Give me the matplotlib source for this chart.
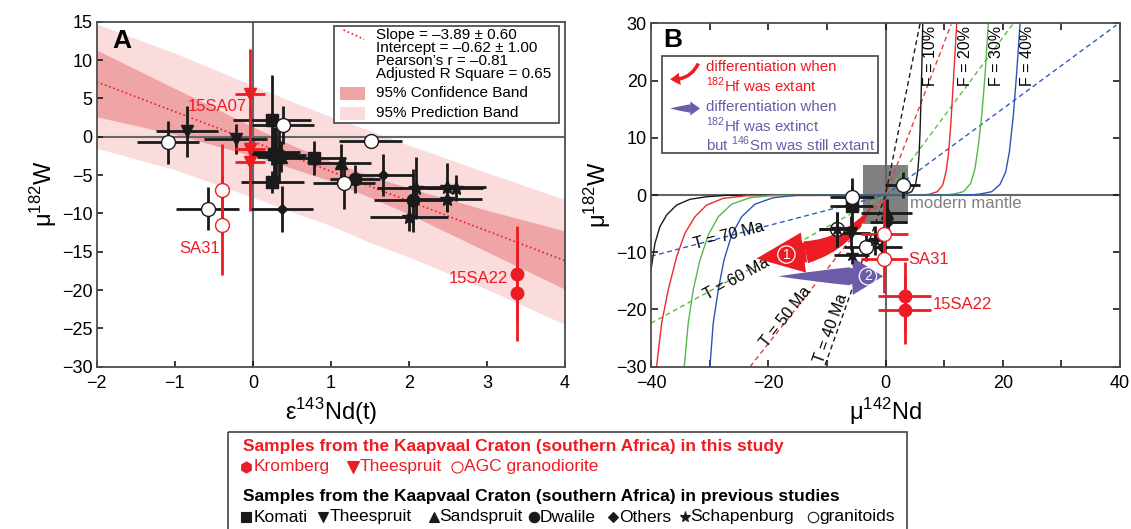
import matplotlib
matplotlib.use("Agg")
import matplotlib.pyplot as plt
from matplotlib.patches import Rectangle, FancyArrowPatch, ArrowStyle
from matplotlib.ticker import MultipleLocator

plt.rcParams['font.family'] = ['Liberation Sans', 'DejaVu Sans']
plt.rcParams['mathtext.fontset'] = 'custom'
plt.rcParams['mathtext.rm'] = 'Liberation Sans'

RED = '#ed1c24'
PURPLE = '#6b5ba8'
INK = '#1a1a1a'
FRAME = '#4d4d4d'

# ---------------- panel A data (eps143Nd vs mu182W) ----------------
band_x = [-2, -1, 0, 0.5, 1, 1.5, 2, 3, 4]
conf_upper = [11.3, 6.3, 1.3, -1.1, -3.2, -5.1, -6.7, -9.6, -12.3]
conf_lower = [2.6, 0.3, -2.5, -4.1, -5.8, -7.9, -10.1, -15.0, -19.9]
pred_upper = [14.7, 10.9, 6.7, 4.6, 2.6, 0.8, -1.1, -4.7, -8.2]
pred_lower = [-1.5, -4.3, -7.9, -9.8, -11.6, -13.8, -15.7, -19.9, -24.5]
fit_x = [-2, 4]
fit_y = [7.16, -16.18]

# this study (red)
theesp_new_x = [-0.04, -0.04, -0.04]
theesp_new_y = [5.6, -1.6, -3.3]
theesp_new_xerr = [0.19, 0.19, 0.19]
theesp_new_yerr = [5.8, 5.5, 6.4]
sa31_a_x = [-0.40, -0.40]
sa31_a_y = [-7.0, -11.5]
sa31_a_yerr = [6.0, 6.5]
kromberg_a_x = [3.38, 3.38]
kromberg_a_y = [-17.9, -20.4]
kromberg_a_yerr = [6.2, 6.2]

# previous studies (black)
komati_x = [0.25, 0.25, 0.27, 0.79]
komati_y = [2.2, -5.9, -2.2, -2.8]
komati_xerr = [0.5, 0.4, 0.3, 0.4]
komati_yerr = [5.9, 1.4, 3.5, 2.2]
theesp_x = [-0.84, -0.22]
theesp_y = [0.7, -0.3]
theesp_xerr = [0.4, 0.4]
theesp_yerr = [3.3, 2.0]
sands_x = [1.13, 0.36]
sands_y = [-3.4, -2.6]
sands_xerr = [0.39, 0.3]
sands_yerr = [2.5, 2.0]
dwal_x = [1.31, 2.05, 0.33]
dwal_y = [-5.5, -8.3, -2.4]
dwal_xerr = [0.32, 0.5, 0.35]
dwal_yerr = [1.8, 4.1, 3.7]
others_x = [1.67, 0.37, 0.30]
others_y = [-5.0, -9.4, -2.0]
others_xerr = [0.4, 0.4, 0.3]
others_yerr = [2.8, 3.0, 3.3]
schap_x = [2.09, 2.49, 2.60, 2.49, 2.00]
schap_y = [-6.7, -6.6, -6.7, -8.1, -10.5]
schap_xerr = [0.5, 0.5, 0.35, 0.45, 0.5]
schap_yerr = [4.0, 3.2, 1.7, 1.6, 1.8]
gran_x = [-1.09, 0.39, 1.51, 1.17, -0.58]
gran_y = [-0.7, 1.5, -0.5, -6.1, -9.4]
gran_xerr = [0.4, 0.4, 0.4, 0.4, 0.4]
gran_yerr = [2.8, 2.5, 0.0, 3.3, 2.8]

# ---------------- panel B data (mu142Nd vs mu182W) ----------------
gran_b_x = [2.9, -5.7, -8.2, -3.4]
gran_b_y = [1.7, -0.3, -6.0, -9.1]
gran_b_xerr = [3.0, 3.7, 3.2, 3.7]
gran_b_yerr = [2.3, 1.8, 3.0, 2.5]
komati_b_x = [-5.8]
komati_b_y = [-2.0]
komati_b_xerr = [3.7]
komati_b_yerr = [5.0]
sands_b_x = [0.2]
sands_b_y = [-3.2]
sands_b_xerr = [4.4]
sands_b_yerr = [2.5]
others_b_x = [0.5, -0.65]
others_b_y = [-4.7, -9.1]
others_b_xerr = [3.1, 3.4]
others_b_yerr = [1.5, 2.0]
theesp_b_x = [-5.9]
theesp_b_y = [-6.6]
theesp_b_xerr = [3.3]
theesp_b_yerr = [3.0]
schap_b_x = [-8.2, -1.8, -5.8]
schap_b_y = [-6.0, -7.9, -10.5]
schap_b_xerr = [3.2, 1.5, 3.0]
schap_b_yerr = [3.0, 2.5, 1.5]
sa31_b_x = [-0.2, -0.2]
sa31_b_y = [-6.8, -11.2]
sa31_b_xerr = [4.0, 4.0]
sa31_b_yerr = [6.0, 6.0]
kromberg_b_x = [3.3, 3.3]
kromberg_b_y = [-17.7, -20.1]
kromberg_b_xerr = [4.5, 4.5]
kromberg_b_yerr = [6.0, 6.0]

# model curves (F = melt fraction)
f10_x = [-40.0, -39.33, -38.48, -37.34, -35.63, -33.36, -30.51, -27.10, 3.0, 4.47, 5.15, 5.49, 5.72, 5.89, 6.06, 6.23, 6.35]
f10_y = [-13.1, -8.45, -5.54, -3.50, -1.75, -0.75, -0.30, -0.05, 0.0, 0.58, 2.0, 4.1, 7.0, 11.1, 16.9, 23.9, 30.0]
f20_x = [-39.05, -38.19, -37.07, -35.63, -34.22, -32.51, -30.51, -27.68, -23.69, 6.5, 7.59, 8.84, 9.76, 10.32, 10.72, 11.13, 11.57, 12.15]
f20_y = [-30.0, -22.4, -16.6, -10.8, -6.7, -3.8, -1.75, -0.58, -0.12, 0.0, 0.17, 0.58, 1.75, 4.07, 7.0, 12.2, 19.8, 30.0]
f30_x = [-34.33, -33.65, -32.80, -31.66, -30.24, -28.53, -26.25, -23.12, -19.15, 10.0, 11.57, 13.28, 14.54, 15.27, 15.84, 16.42, 16.98, 17.54]
f30_y = [-30.0, -22.4, -16.6, -11.4, -7.0, -3.8, -1.6, -0.47, -0.05, 0.0, 0.17, 0.58, 2.05, 4.67, 8.74, 14.0, 21.0, 30.0]
f40_x = [-29.95, -29.39, -28.53, -27.56, -26.25, -24.54, -22.27, -19.15, -15.15, 14.5, 16.13, 18.12, 19.54, 20.51, 21.13, 21.81, 22.39, 22.95]
f40_y = [-30.0, -22.4, -16.6, -11.4, -7.0, -3.8, -1.6, -0.47, -0.05, 0.0, 0.17, 0.58, 1.87, 4.07, 7.57, 14.0, 21.6, 30.0]
f_labels = ['F = 10%', 'F = 20%', 'F = 30%', 'F = 40%']
f_label_x = [7.6, 13.6, 18.9, 24.3]

# isochrons (T = age of differentiation)
t70_x = [-40, 0, 39.4]
t70_y = [-10.7, 0, 29.7]
t60_x = [-40, 0, 21.8]
t60_y = [-22.4, 0, 30.0]
t50_x = [-23.1, 0, 11.2]
t50_y = [-30.0, 0, 29.8]
t40_x = [-10.3, 0, 5.9]
t40_y = [-29.7, 0, 30.0]
t_labels = ['T = 70 Ma', 'T = 60 Ma', 'T = 50 Ma', 'T = 40 Ma']
t_label_pos = [(-26.8, -7.0), (-25.4, -14.6), (-17.0, -21.3), (-9.4, -23.3)]
t_label_rot = [14.7, 28.7, 51.8, 70.4]

mantle_box = (-3.9, -5.1, 7.7, 10.3)   # x, y, width, height

# arrows: tail, head base, tip
arrow1 = [(-2.4, -2.0), (-13.6, -10.0), (-22.0, -11.1)]
arrow2 = [(-18.3, -14.2), (-6.06, -14.2), (-0.4, -14.2)]


def tapered_arrow(ax, tail, base, tip, body_w, head_len, head_w, color, rad=0.0,
                  transform=None, z=3):
    """wedge body from head base back to a point at the tail, plus a head"""
    tr = transform if transform is not None else ax.transData
    body = FancyArrowPatch(base, tail, arrowstyle=ArrowStyle.Wedge(tail_width=body_w, shrink_factor=0.55),
                           connectionstyle='arc3,rad=%g' % rad, mutation_scale=1,
                           shrinkA=0, shrinkB=0, fc=color, ec='none', transform=tr, zorder=z)
    head = FancyArrowPatch(base, tip, arrowstyle=ArrowStyle.Simple(head_length=head_len, head_width=head_w,
                                                                   tail_width=body_w * 0.9),
                           mutation_scale=1, shrinkA=0, shrinkB=0, fc=color, ec='none',
                           transform=tr, zorder=z)
    ax.add_patch(body)
    ax.add_patch(head)


def style_axes(ax):
    for s in ax.spines.values():
        s.set_color(FRAME)
        s.set_linewidth(1.3)
    ax.tick_params(which='both', direction='in', length=4, width=1.2, color=INK,
                   labelsize=13, pad=3)
    ax.tick_params(axis='x', which='both', pad=6)


def black_points(ax, x, y, xerr, yerr, marker, ms, open_marker=False, z=5):
    ax.errorbar(x, y, xerr=xerr, yerr=yerr, fmt=marker, ms=ms,
                mfc='white' if open_marker else INK, mec=INK, mew=1.0,
                ecolor=INK, elinewidth=2.0, capsize=0, zorder=z)


fig = plt.figure(figsize=(11.31, 5.29), dpi=100)
axA = fig.add_axes([0.0855, 0.3068, 0.4141, 0.6522])
axB = fig.add_axes([0.5756, 0.3068, 0.4147, 0.6491])

# ================= panel A =================
axA.fill_between(band_x, pred_lower, pred_upper, color='#fbdcdc', lw=0, zorder=1)
axA.fill_between(band_x, conf_lower, conf_upper, color='#efa4a6', lw=0, zorder=1.1)
axA.plot(fit_x, fit_y, ls=':', color=RED, lw=1.2, zorder=2)
axA.axhline(0, color='#666666', lw=1.5, zorder=1.5)
axA.axvline(0, color='#666666', lw=1.5, zorder=1.5)

black_points(axA, theesp_x, theesp_y, theesp_xerr, theesp_yerr, 'v', 9)
black_points(axA, komati_x, komati_y, komati_xerr, komati_yerr, 's', 9)
black_points(axA, sands_x, sands_y, sands_xerr, sands_yerr, '^', 9)
black_points(axA, dwal_x, dwal_y, dwal_xerr, dwal_yerr, 'o', 9)
black_points(axA, others_x, others_y, others_xerr, others_yerr, 'D', 5.5)
black_points(axA, schap_x, schap_y, schap_xerr, schap_yerr, '*', 10)
black_points(axA, gran_x, gran_y, gran_xerr, gran_yerr, 'o', 10, open_marker=True)

axA.errorbar(theesp_new_x, theesp_new_y, xerr=theesp_new_xerr, yerr=theesp_new_yerr, fmt='v',
             ms=9, color=RED, ecolor=RED, elinewidth=2.0, capsize=0, zorder=6)
axA.errorbar(sa31_a_x, sa31_a_y, yerr=sa31_a_yerr, fmt='o', ms=10, mfc='white', mec=RED,
             mew=1.0, ecolor=RED, elinewidth=2.0, capsize=0, zorder=6)
axA.errorbar(kromberg_a_x, kromberg_a_y, yerr=kromberg_a_yerr, fmt='o', ms=9, color=RED,
             ecolor=RED, elinewidth=2.0, capsize=0, zorder=6)

axA.text(-0.08, 3.95, '15SA07', color=RED, fontsize=12, ha='right', va='center', zorder=7)
axA.text(-0.42, -14.6, 'SA31', color=RED, fontsize=12, ha='right', va='center', zorder=7)
axA.text(3.27, -18.55, '15SA22', color=RED, fontsize=12, ha='right', va='center', zorder=7)

axA.set_xlim(-2, 4)
axA.set_ylim(-30, 15)
axA.xaxis.set_major_locator(MultipleLocator(1))
axA.yaxis.set_major_locator(MultipleLocator(5))
style_axes(axA)
axA.set_xlabel('ε$^{\\mathregular{143}}$Nd(t)', fontsize=17, labelpad=3)
axA.set_ylabel('μ$^{\\mathregular{182}}$W', fontsize=17, labelpad=2)
axA.text(0.054, 0.944, 'A', transform=axA.transAxes, fontsize=19, fontweight='bold',
         ha='center', va='center', zorder=8)

# regression legend box
axA.add_patch(Rectangle((0.507, 0.707), 0.48, 0.28, transform=axA.transAxes, fc='white',
                        ec='#444444', lw=1.2, zorder=8))
axA.plot([0.527, 0.571], [0.976, 0.949], ls=':', color=RED, lw=1.2,
         transform=axA.transAxes, zorder=9)
stats = ['Slope = –3.89 ± 0.60', 'Intercept = –0.62 ± 1.00', 'Pearson’s r = –0.81',
         'Adjusted R Square = 0.65']
stats_y = [0.961, 0.923, 0.886, 0.848]
for s, yy in zip(stats, stats_y):
    axA.text(0.596, yy, s, transform=axA.transAxes, fontsize=11, va='center', zorder=9)
axA.add_patch(Rectangle((0.519, 0.773), 0.054, 0.037, transform=axA.transAxes,
                        fc='#efa4a6', ec='none', zorder=9))
axA.add_patch(Rectangle((0.519, 0.715), 0.054, 0.039, transform=axA.transAxes,
                        fc='#fbdcdc', ec='none', zorder=9))
axA.text(0.596, 0.794, '95% Confidence Band', transform=axA.transAxes, fontsize=11,
         va='center', zorder=9)
axA.text(0.596, 0.736, '95% Prediction Band', transform=axA.transAxes, fontsize=11,
         va='center', zorder=9)

# ================= panel B =================
axB.add_patch(Rectangle(mantle_box[:2], mantle_box[2], mantle_box[3], fc='#808080',
                        ec='none', zorder=1))
axB.axhline(0, color='#666666', lw=1.5, zorder=1.5)
axB.axvline(0, color='#666666', lw=1.5, zorder=1.5)

for xs, ys, c in [(t70_x, t70_y, '#2b5fbf'), (t60_x, t60_y, '#5dbb46'),
                  (t50_x, t50_y, '#ee3b3b'), (t40_x, t40_y, INK)]:
    axB.plot(xs, ys, ls=(0, (3.5, 2.5)), color=c, lw=1.0, zorder=2)
for xs, ys, c in [(f10_x, f10_y, INK), (f20_x, f20_y, '#ee2a2a'),
                  (f30_x, f30_y, '#55b947'), (f40_x, f40_y, '#2856b8')]:
    axB.plot(xs, ys, color=c, lw=1.0, zorder=2)

for lab, fx in zip(f_labels, f_label_x):
    axB.text(fx, 29.6, lab, rotation=90, ha='center', va='top', fontsize=11.5, zorder=3)
for lab, pos, rot in zip(t_labels, t_label_pos, t_label_rot):
    axB.text(pos[0], pos[1], lab, rotation=rot, rotation_mode='anchor', ha='center',
             va='center', fontsize=11.5, zorder=3)
axB.text(4.2, -1.4, 'modern mantle', color='#808080', fontsize=12, ha='left', va='center',
         zorder=3)

tapered_arrow(axB, arrow1[0], arrow1[1], arrow1[2], body_w=16, head_len=34, head_w=29,
              color=RED, rad=0.22)
tapered_arrow(axB, arrow2[0], arrow2[1], arrow2[2], body_w=13, head_len=22, head_w=27,
              color=PURPLE)
for num, pos in [('1', (-16.9, -10.4)), ('2', (-3.0, -14.2))]:
    axB.text(pos[0], pos[1], num, color='white', fontsize=10, ha='center', va='center',
             zorder=4, bbox=dict(boxstyle='circle,pad=0.12', fc='none', ec='white', lw=0.9))

black_points(axB, komati_b_x, komati_b_y, komati_b_xerr, komati_b_yerr, 's', 9)
black_points(axB, sands_b_x, sands_b_y, sands_b_xerr, sands_b_yerr, '^', 9)
black_points(axB, others_b_x, others_b_y, others_b_xerr, others_b_yerr, 'D', 5.5)
black_points(axB, theesp_b_x, theesp_b_y, theesp_b_xerr, theesp_b_yerr, 'v', 9)
black_points(axB, gran_b_x, gran_b_y, gran_b_xerr, gran_b_yerr, 'o', 10, open_marker=True)
black_points(axB, schap_b_x, schap_b_y, schap_b_xerr, schap_b_yerr, '*', 9, z=6)

axB.errorbar(sa31_b_x, sa31_b_y, xerr=sa31_b_xerr, yerr=sa31_b_yerr, fmt='o', ms=10,
             mfc='white', mec=RED, mew=1.0, ecolor=RED, elinewidth=2.0, capsize=0, zorder=6)
axB.errorbar(kromberg_b_x, kromberg_b_y, xerr=kromberg_b_xerr, yerr=kromberg_b_yerr, fmt='o',
             ms=9, color=RED, ecolor=RED, elinewidth=2.0, capsize=0, zorder=6)
axB.text(3.9, -11.2, 'SA31', color=RED, fontsize=12, ha='left', va='center', zorder=7)
axB.text(8.05, -19.1, '15SA22', color=RED, fontsize=12, ha='left', va='center', zorder=7)

axB.set_xlim(-40, 40)
axB.set_ylim(-30, 30)
axB.xaxis.set_major_locator(MultipleLocator(20))
axB.xaxis.set_minor_locator(MultipleLocator(10))
axB.yaxis.set_major_locator(MultipleLocator(10))
style_axes(axB)
axB.tick_params(which='both', top=True, right=True, length=5)
axB.set_xlabel('μ$^{\\mathregular{142}}$Nd', fontsize=17, labelpad=3)
axB.set_ylabel('μ$^{\\mathregular{182}}$W', fontsize=17, labelpad=2)
axB.text(0.046, 0.951, 'B', transform=axB.transAxes, fontsize=19, fontweight='bold',
         ha='center', va='center', zorder=8)

# process legend box
axB.add_patch(Rectangle((0.0228, 0.6214), 0.4606, 0.2843, transform=axB.transAxes,
                        fc='white', ec='#444444', lw=1.2, zorder=8))
icon_red = FancyArrowPatch((0.101, 0.883), (0.0405, 0.838),
                           arrowstyle=ArrowStyle.Simple(head_length=7, head_width=9, tail_width=2.5),
                           connectionstyle='arc3,rad=-0.35', mutation_scale=1, shrinkA=0,
                           shrinkB=0, fc=RED, ec='none', transform=axB.transAxes, zorder=9)
axB.add_patch(icon_red)
tapered_arrow(axB, (0.0405, 0.752), (0.083, 0.752), (0.1045, 0.752), body_w=6, head_len=7,
              head_w=10, color=PURPLE, transform=axB.transAxes, z=9)
leg_lines = [('differentiation when', RED, 0.872),
             ('$^{\\mathregular{182}}$Hf was extant', RED, 0.818),
             ('differentiation when', PURPLE, 0.757),
             ('$^{\\mathregular{182}}$Hf was extinct', PURPLE, 0.702),
             ('but $^{\\mathregular{146}}$Sm was still extant', PURPLE, 0.649)]
for s, c, yy in leg_lines:
    axB.text(0.1166, yy, s, color=c, fontsize=10.8, va='center', transform=axB.transAxes,
             zorder=9)

# ================= sample legend (pixel-coordinate overlay) =================
ov = fig.add_axes([0, 0, 1, 1], zorder=5)
ov.set_xlim(0, 1131)
ov.set_ylim(529, 0)
ov.axis('off')
ov.patch.set_alpha(0)
ov.add_patch(Rectangle((228.4, 432.3), 906.7 - 228.4, 110, fc='none', ec='#444444', lw=1.2,
                       clip_on=False))
ov.text(242.7, 446.7, 'Samples from the Kaapvaal Craton (southern Africa) in this study',
        color=RED, fontsize=12.5, fontweight='bold', va='center')
ov.text(242.7, 497, 'Samples from the Kaapvaal Craton (southern Africa) in previous studies',
        color='black', fontsize=12.5, fontweight='bold', va='center')

new_items = [('h', RED, RED, 245.9, 'Kromberg', 253.5),
             ('v', RED, RED, 353.0, 'Theespruit', 359.5),
             ('o', 'white', RED, 457.2, 'AGC granodiorite', 464.5)]
for mk, fc, ec, mx, lab, tx in new_items:
    ov.plot([mx], [467], marker=mk, ms=8, mfc=fc, mec=ec, mew=0.8, ls='none')
    ov.text(tx, 467, lab, color=RED, fontsize=12.5, va='center')

old_items = [('s', 245.9, 'Komati', 253.5, 7.5), ('v', 323.1, 'Theespruit', 329.5, 7),
             ('^', 434.3, 'Sandspruit', 439.5, 7), ('o', 534.4, 'Dwalile', 540.0, 7.5),
             ('D', 613.4, 'Others', 619.5, 5.5), ('*', 684.6, 'Schapenburg', 690.5, 8),
             ('o', 813.2, 'granitoids', 819.5, 7.5)]
for i, (mk, mx, lab, tx, ms) in enumerate(old_items):
    open_m = (i == len(old_items) - 1)
    ov.plot([mx], [517], marker=mk, ms=ms, mfc='white' if open_m else INK, mec=INK, mew=0.8,
            ls='none')
    ov.text(tx, 517, lab, color='black', fontsize=12.5, va='center')

fig.savefig('out.png', dpi=100)
